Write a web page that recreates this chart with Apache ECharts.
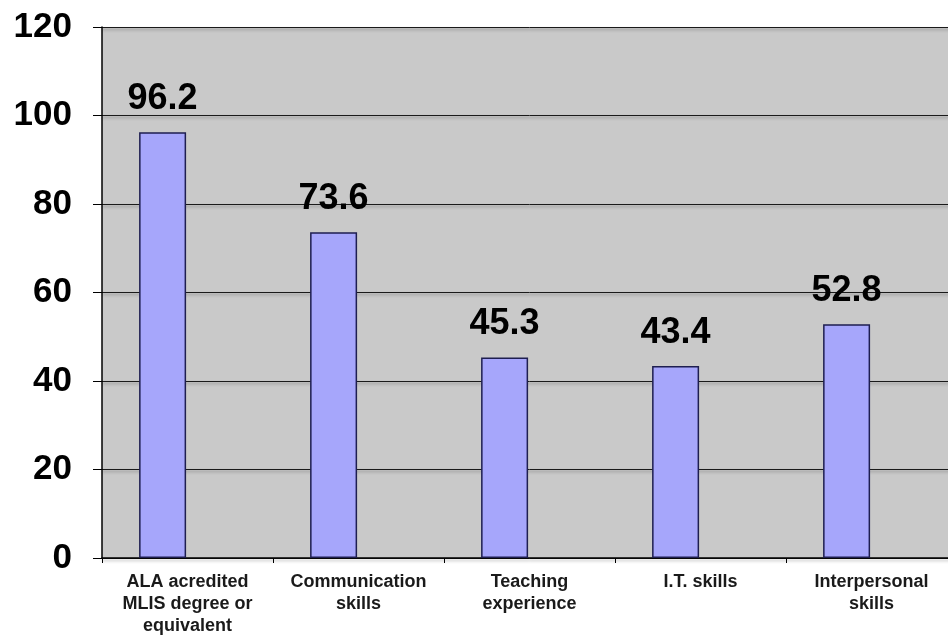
<!DOCTYPE html>
<html>
<head>
<meta charset="utf-8">
<script src="https://cdn.jsdelivr.net/npm/echarts@6/dist/echarts.min.js"></script>
<style>
  html, body { margin: 0; padding: 0; background: #ffffff; overflow: hidden; }
  #wrap { width: 948px; height: 637px; overflow: hidden; }
  /* the plot runs a little past the right edge of the page */
  #chart { width: 960px; height: 637px; }
</style>
</head>
<body>
<div id="wrap"><div id="chart"></div></div>
<script>
// Qualifications and skills asked for (percent)
const categories = [
  'ALA acredited\nMLIS degree or\nequivalent',
  'Communication\nskills',
  'Teaching\nexperience',
  'I.T. skills',
  'Interpersonal\nskills'
];
const percentValues = [96.2, 73.6, 45.3, 43.4, 52.8];
// Second series slot kept empty, so the bars sit left of each category centre
const emptyValues = [null, null, null, null, null];
const yTicks = { min: 0, max: 120, interval: 20 };

const font = '"Liberation Sans", Arial, Helvetica, sans-serif';

const chart = echarts.init(document.getElementById('chart'), null, { renderer: 'canvas' });

chart.setOption({
  animation: false,
  backgroundColor: '#ffffff',
  grid: {
    left: 102,
    top: 27,
    right: 3,
    bottom: 79,
    show: true,
    backgroundColor: '#c9c9c9',
    borderWidth: 0
  },
  xAxis: {
    type: 'category',
    data: categories,
    axisLine: { show: true, lineStyle: { color: '#000000', width: 1.5 } },
    axisTick: { show: true, length: 5, lineStyle: { color: '#000000' } },
    axisLabel: {
      interval: 0,
      margin: 13,
      fontFamily: font,
      fontSize: 18,
      fontWeight: 'bold',
      lineHeight: 22,
      color: '#1a1a1a'
    },
    splitLine: { show: false }
  },
  yAxis: {
    type: 'value',
    min: yTicks.min,
    max: yTicks.max,
    interval: yTicks.interval,
    axisLine: { show: true, lineStyle: { color: '#000000', width: 1.5 } },
    axisTick: { show: true, inside: false, length: 9, lineStyle: { color: '#000000' } },
    axisLabel: {
      margin: 30,
      fontFamily: font,
      fontSize: 35,
      fontWeight: 'bold',
      color: '#000000'
    },
    splitLine: {
      show: true,
      lineStyle: {
        color: '#1a1a1a',
        width: 1,
        shadowColor: 'rgba(0,0,0,0.35)',
        shadowBlur: 3,
        shadowOffsetY: 2
      }
    }
  },
  series: [
    {
      type: 'bar',
      data: percentValues,
      barWidth: 47,
      barGap: '6%',
      itemStyle: {
        color: '#a6a6fb',
        borderColor: '#1e1e50',
        borderWidth: 1.5
      },
      label: {
        show: true,
        position: 'top',
        distance: 15,
        fontFamily: font,
        fontSize: 36,
        fontWeight: 'bold',
        color: '#000000',
        formatter: (p) => p.value.toFixed(1)
      }
    },
    {
      type: 'bar',
      data: emptyValues,
      barWidth: 47
    }
  ]
});
</script>
</body>
</html>
